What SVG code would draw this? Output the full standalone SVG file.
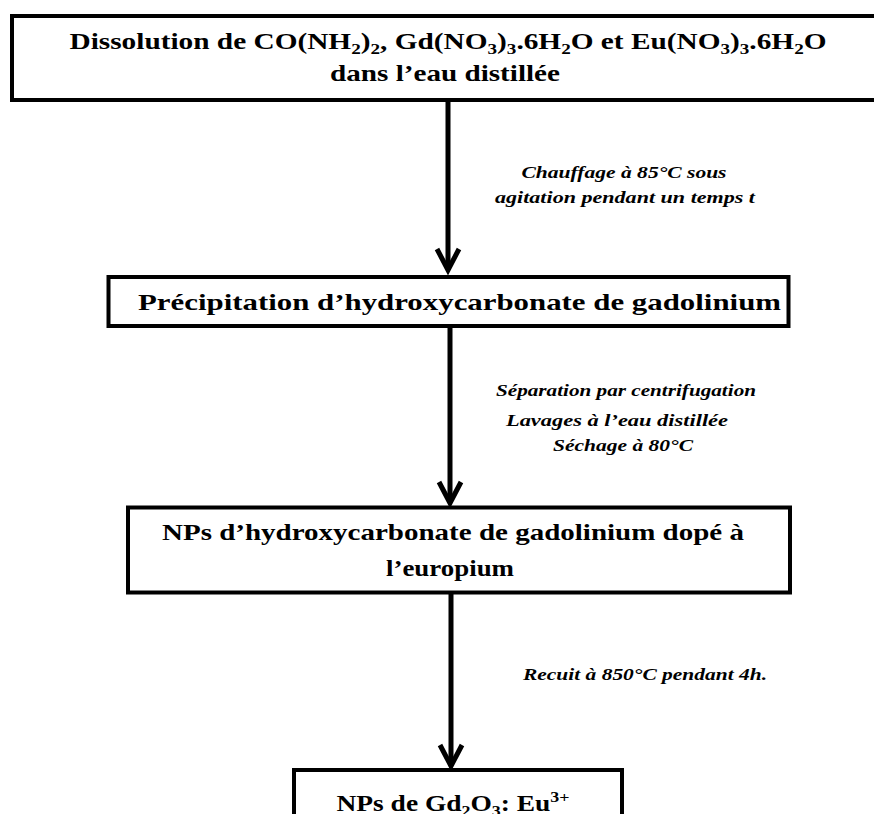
<svg xmlns="http://www.w3.org/2000/svg" width="874" height="814" viewBox="0 0 874 814">
<style>
.box{fill:#fff;stroke:#000;stroke-width:4}
.t{font-family:"Liberation Serif","Times New Roman",serif;font-weight:bold;font-size:23px;fill:#000;text-anchor:middle}
.l{font-family:"Liberation Serif","Times New Roman",serif;font-style:italic;font-weight:bold;font-size:17px;fill:#000;text-anchor:middle}
.s{font-size:15px}
.c{stroke:#000;stroke-width:5;fill:none}
.h{stroke:#000;stroke-width:5;fill:none;stroke-linejoin:miter;stroke-linecap:butt}
</style>
<rect width="874" height="814" fill="#fff"/>
<g id="connectors">
<line class="c" x1="448" y1="102" x2="448" y2="270"/>
<polyline class="h" points="437,249 448,270 459,249"/>
<line class="c" x1="450" y1="328" x2="450" y2="503"/>
<polyline class="h" points="439,482 450,503 461,482"/>
<line class="c" x1="451" y1="594" x2="451" y2="766"/>
<polyline class="h" points="440,745 451,766 462,745"/>
<text class="l" x="624" y="178" textLength="205" lengthAdjust="spacingAndGlyphs">Chauffage à 85°C sous</text>
<text class="l" x="625" y="203" textLength="260" lengthAdjust="spacingAndGlyphs">agitation  pendant un temps t</text>
<text class="l" x="626" y="396" textLength="260" lengthAdjust="spacingAndGlyphs">Séparation par centrifugation</text>
<text class="l" x="617" y="426" textLength="222" lengthAdjust="spacingAndGlyphs">Lavages à l’eau distillée</text>
<text class="l" x="623" y="451" textLength="140" lengthAdjust="spacingAndGlyphs">Séchage à 80°C</text>
<text class="l" x="645" y="680" textLength="244" lengthAdjust="spacingAndGlyphs">Recuit à 850°C pendant 4h.</text>
</g>
<g id="n1">
<rect class="box" x="12" y="16" width="880" height="84"/>
<text class="t" x="448" y="49" textLength="757" lengthAdjust="spacingAndGlyphs">Dissolution de CO(NH<tspan class="s" dy="5">2</tspan><tspan dy="-5">)</tspan><tspan class="s" dy="5">2</tspan><tspan dy="-5">,  Gd(NO</tspan><tspan class="s" dy="5">3</tspan><tspan dy="-5">)</tspan><tspan class="s" dy="5">3</tspan><tspan dy="-5">.6H</tspan><tspan class="s" dy="5">2</tspan><tspan dy="-5">O  et  Eu(NO</tspan><tspan class="s" dy="5">3</tspan><tspan dy="-5">)</tspan><tspan class="s" dy="5">3</tspan><tspan dy="-5">.6H</tspan><tspan class="s" dy="5">2</tspan><tspan dy="-5">O</tspan></text>
<text class="t" x="445" y="81" textLength="230" lengthAdjust="spacingAndGlyphs">dans l’eau distillée</text>
</g>
<g id="n2">
<rect class="box" x="108.5" y="277" width="680" height="49"/>
<text class="t" x="459.5" y="310" textLength="643" lengthAdjust="spacingAndGlyphs">Précipitation d’hydroxycarbonate de gadolinium</text>
</g>
<g id="n3">
<rect class="box" x="128" y="507.5" width="662" height="85"/>
<text class="t" x="453" y="540" textLength="582" lengthAdjust="spacingAndGlyphs">NPs d’hydroxycarbonate de gadolinium dopé à</text>
<text class="t" x="450" y="576" textLength="128" lengthAdjust="spacingAndGlyphs">l’europium</text>
</g>
<g id="n4">
<rect class="box" x="294" y="770" width="328" height="60"/>
<text class="t" x="453" y="811" textLength="233" lengthAdjust="spacingAndGlyphs">NPs de Gd<tspan class="s" dy="5">2</tspan><tspan dy="-5">O</tspan><tspan class="s" dy="5">3</tspan><tspan dy="-5">:  Eu</tspan><tspan class="s" dy="-9">3+</tspan></text>
</g>
</svg>
